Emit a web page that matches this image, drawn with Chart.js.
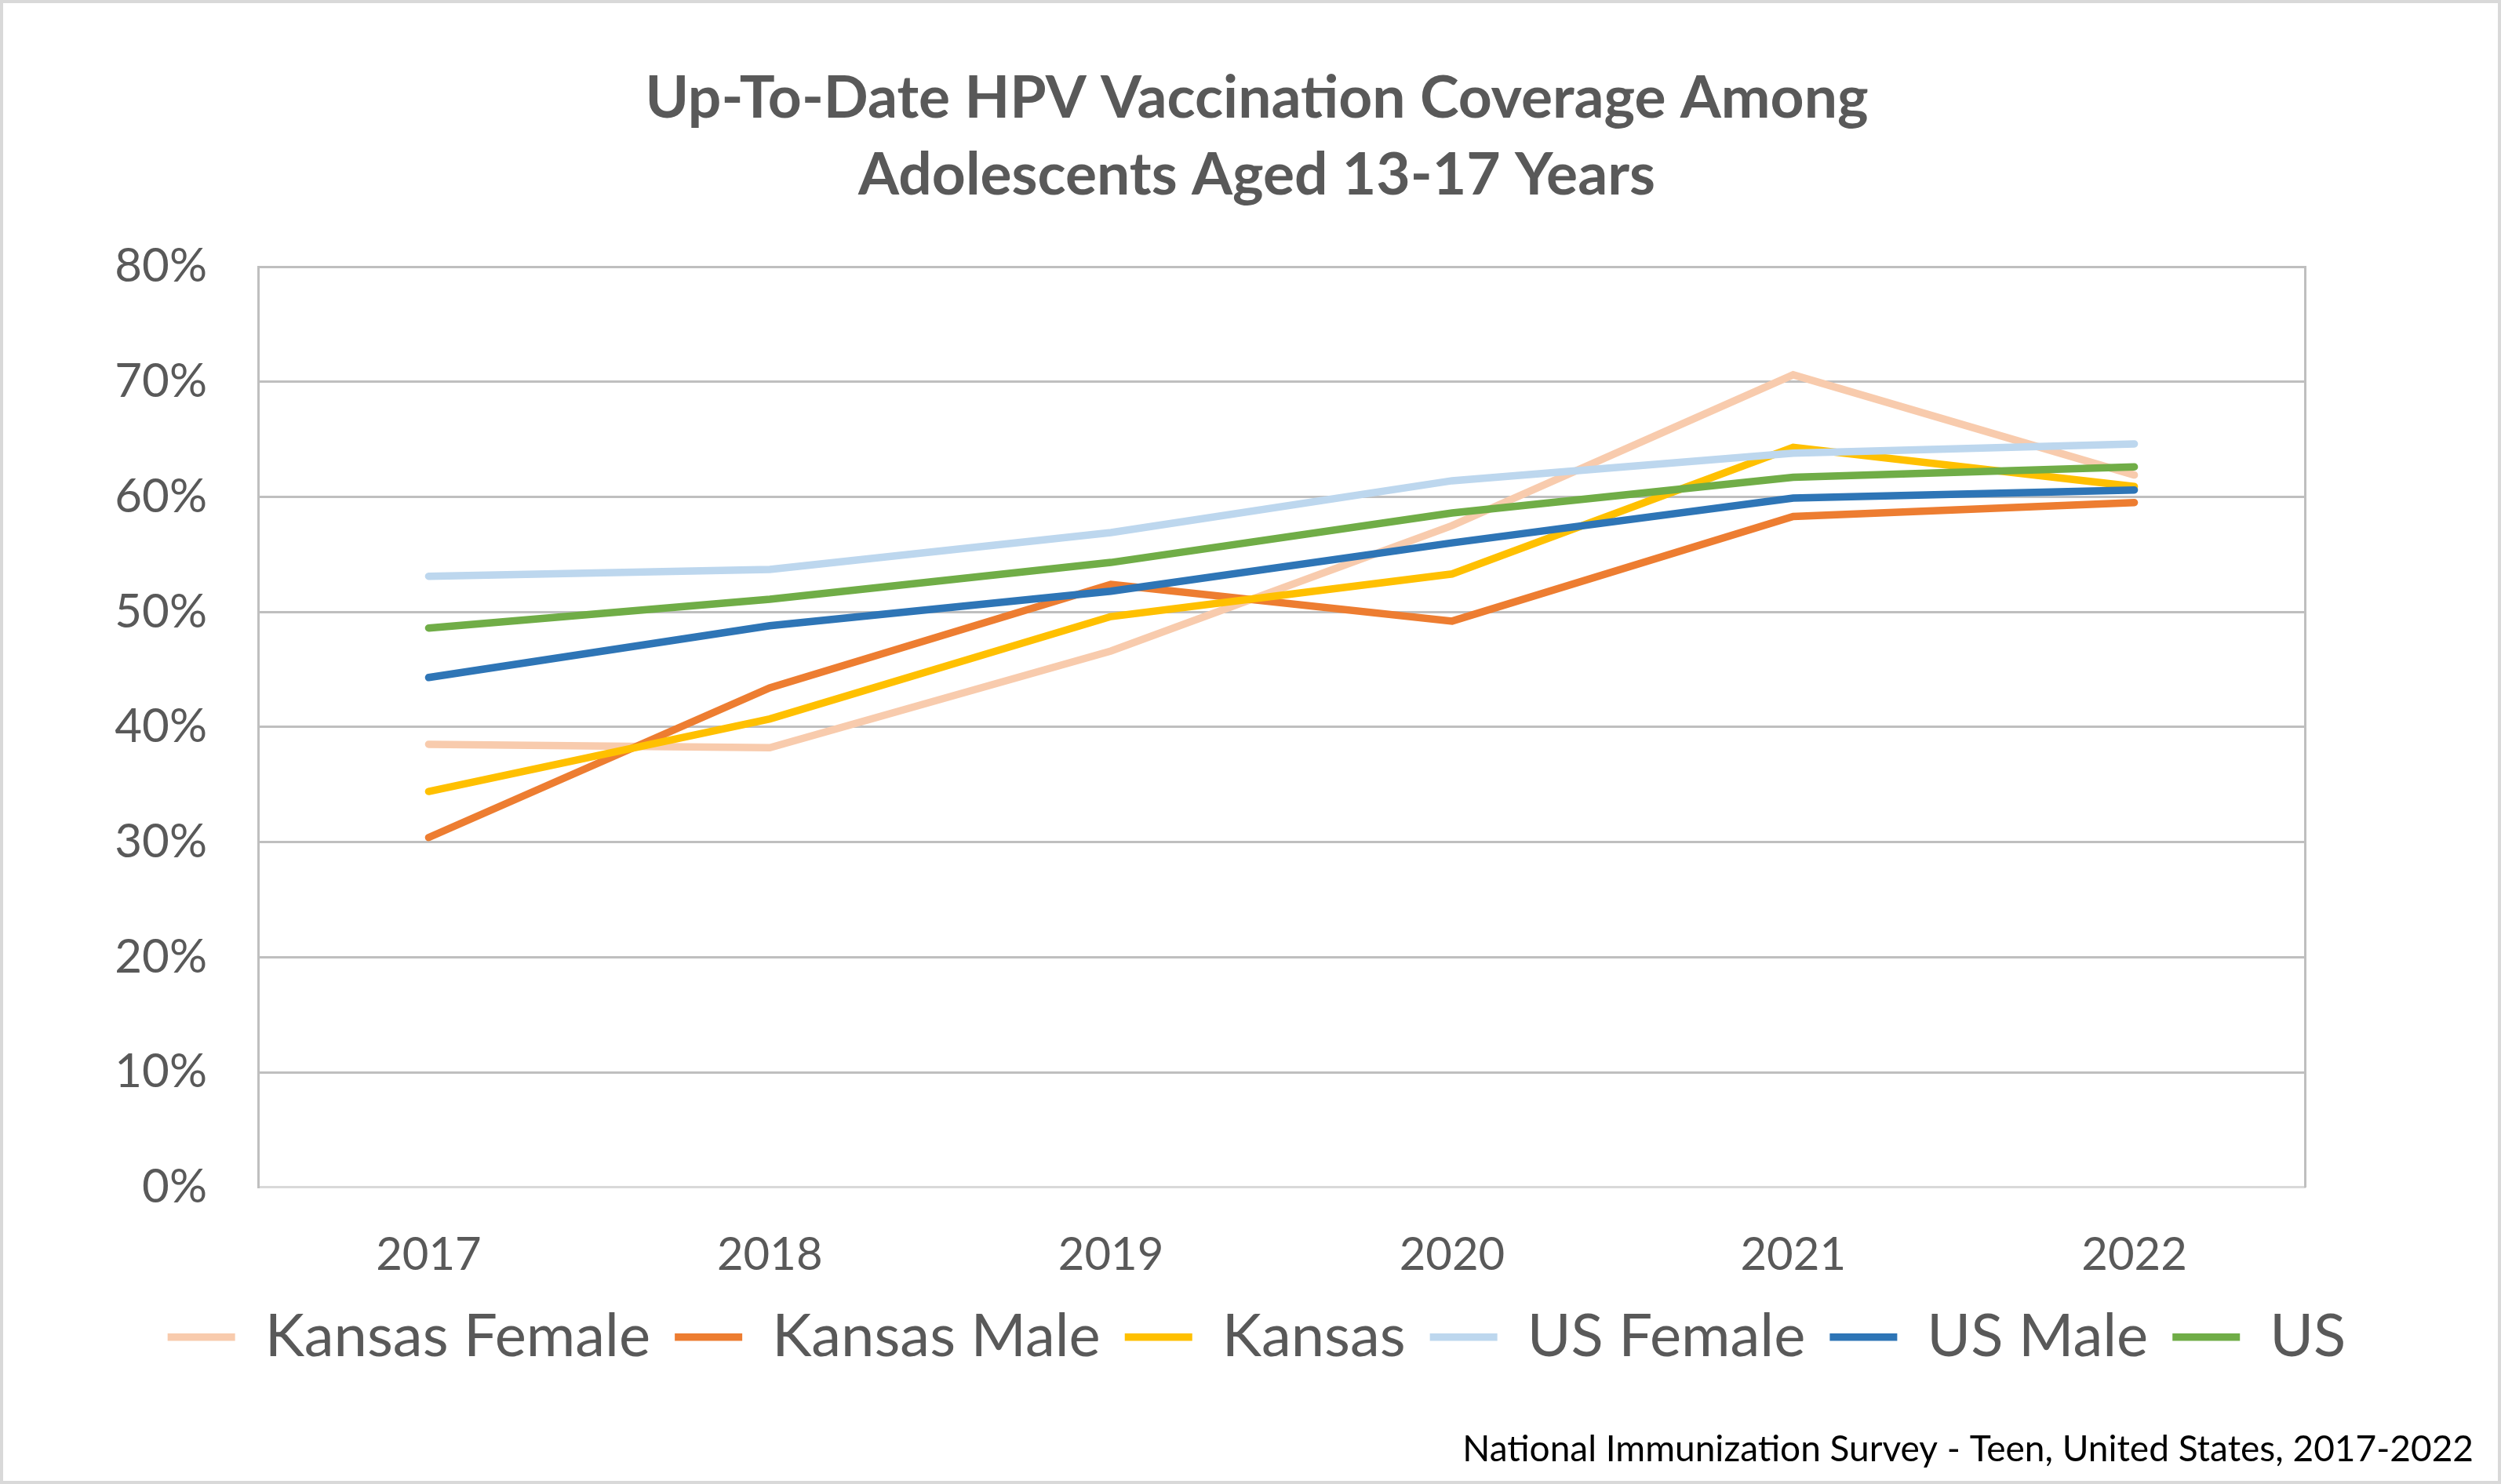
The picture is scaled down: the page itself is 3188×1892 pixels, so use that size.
<!DOCTYPE html>
<html><head><meta charset="utf-8">
<script src="https://cdn.jsdelivr.net/npm/chart.js@4.4.0/dist/chart.umd.min.js"></script>
<style>html,body{margin:0;padding:0;background:#fff;} canvas{display:block;}</style>
</head><body>
<canvas id="c" width="3188" height="1892" style="width:3188px;height:1892px"></canvas>
<script>
const years = ['2017', '2018', '2019', '2020', '2021', '2022'];
const kansasFemale = [38.5, 38.2, 46.6, 57.5, 70.6, 61.9];
const kansasMale   = [30.4, 43.4, 52.4, 49.2, 58.3, 59.5];
const kansas       = [34.4, 40.7, 49.6, 53.3, 64.3, 60.9];
const usFemale     = [53.1, 53.7, 56.9, 61.4, 63.8, 64.6];
const usMale       = [44.3, 48.8, 51.8, 56.0, 59.9, 60.6];
const us           = [48.6, 51.1, 54.3, 58.6, 61.7, 62.6];
const seriesNames  = ['Kansas Female', 'Kansas Male', 'Kansas', 'US Female', 'US Male', 'US'];
const seriesValues = [kansasFemale, kansasMale, kansas, usFemale, usMale, us];
const seriesColors = ['#F8CBAD', '#ED7D31', '#FFC000', '#BDD7EE', '#2E75B6', '#70AD47'];
const yMin = 0, yMax = 80, yStep = 10;
const titleLines = ['Up-To-Date HPV Vaccination Coverage Among', 'Adolescents Aged 13-17 Years'];
const footnote = 'National Immunization Survey - Teen, United States, 2017-2022';

const W = 3188, H = 1892;
const PLOT_LEFT = 329, PLOT_RIGHT = 2938;
const PAD_L = 51, PAD_R = 35;

Chart.defaults.font.family = 'Lato, "Open Sans", sans-serif';
Chart.defaults.color = '#595959';

const bgPlugin = {
  id: 'bg',
  beforeDraw(chart) {
    const c = chart.ctx;
    c.save(); c.fillStyle = '#fff'; c.fillRect(0, 0, chart.width, chart.height); c.restore();
  },
  afterDraw(chart) {
    const c = chart.ctx;
    c.save(); c.strokeStyle = '#D9D9D9'; c.lineWidth = 4;
    c.strokeRect(2, 2, chart.width - 4, chart.height - 4); c.restore();
  }
};

const datasets = seriesNames.map((name, i) => ({
  label: name,
  data: seriesValues[i],
  borderColor: seriesColors[i],
  backgroundColor: seriesColors[i],
  borderWidth: 9.5,
  borderCapStyle: 'round',
  pointRadius: 0,
  pointHoverRadius: 0,
  tension: 0,
  fill: false,
  order: seriesNames.length - i
}));

new Chart(document.getElementById('c'), {
  type: 'line',
  data: { labels: years, datasets },
  options: {
    responsive: false,
    animation: false,
    devicePixelRatio: 1,
    layout: { padding: { left: PAD_L, right: PAD_R, top: 0, bottom: 0 } },
    plugins: {
      title: {
        display: true, text: titleLines, color: '#595959',
        font: { size: 75, weight: 'bold', lineHeight: 98 / 75 },
        padding: { top: 77, bottom: 67 }
      },
      legend: {
        position: 'bottom',
        labels: {
          usePointStyle: true, pointStyle: 'line', pointStyleWidth: 86,
          font: { size: 76 }, padding: 31, color: '#595959',
          sort: (a, b) => a.datasetIndex - b.datasetIndex
        }
      },
      subtitle: {
        display: true, position: 'bottom', align: 'end', text: footnote,
        color: '#000000', font: { size: 46 }, padding: { top: 68, bottom: 16 }
      },
      tooltip: { enabled: false }
    },
    scales: {
      x: {
        offset: true,
        grid: { display: false, drawTicks: false },
        border: { color: '#D9D9D9', width: 3 },
        ticks: { font: { size: 58 }, padding: 52, color: '#595959' },
        afterFit(s) { s.height = 122; }
      },
      y: {
        min: yMin, max: yMax,
        ticks: { stepSize: yStep, callback: v => v + '%', font: { size: 60 }, padding: 65, color: '#595959' },
        grid: { color: c => (c.tick && c.tick.value === 0) ? '#D9D9D9' : '#BFBFBF', lineWidth: 3, drawTicks: false },
        border: { color: '#BFBFBF', width: 3 },
        afterFit(s) { s.width = PLOT_LEFT - PAD_L; }
      },
      yR: {
        position: 'right', min: yMin, max: yMax,
        grid: { display: false, drawTicks: false },
        ticks: { display: false },
        border: { color: '#BFBFBF', width: 3 },
        afterFit(s) { s.width = W - PAD_R - PLOT_RIGHT; }
      }
    }
  },
  plugins: [bgPlugin]
});
</script>
</body></html>
